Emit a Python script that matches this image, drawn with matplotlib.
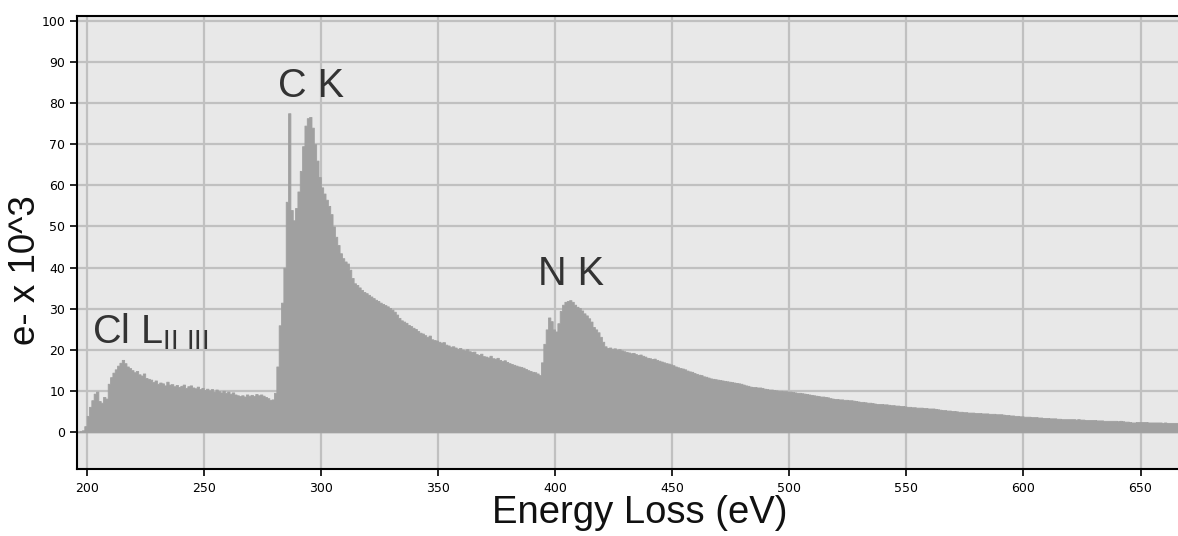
"""
EELS spectrum: C K, N K and Cl L edges.
"""

import numpy as np
import matplotlib
matplotlib.use("Agg")
import matplotlib.pyplot as plt

plt.rcParams["font.family"] = ["Liberation Sans", "DejaVu Sans"]
plt.rcParams["mathtext.default"] = "regular"

# spectrum, 1 eV channels starting at 196 eV (counts in units of 10^3 e-)
e_start = 196
counts = [
    0.2, 0.3, 0.5, 1.5, 4.0, 6.2, 7.8, 9.4, 9.9, 7.6,
    7.2, 8.6, 8.2, 11.8, 13.4, 14.5, 15.3, 16.2, 16.9, 17.6,
    16.8, 16.0, 15.6, 15.1, 14.6, 14.9, 14.1, 13.8, 14.3, 13.2,
    13.0, 12.8, 12.2, 12.6, 11.8, 12.1, 11.9, 11.4, 12.3, 11.6,
    11.7, 11.2, 11.5, 11.0, 11.3, 11.6, 10.8, 11.2, 11.4, 10.9,
    10.7, 11.1, 10.5, 10.8, 10.3, 10.6, 10.2, 10.5, 9.9, 10.4,
    10.0, 9.7, 10.1, 9.6, 9.9, 9.4, 9.7, 9.2, 9.0, 8.8,
    9.0, 8.7, 9.2, 8.9, 9.1, 8.8, 9.3, 9.0, 9.2, 8.9,
    8.6, 8.3, 7.9, 8.0, 9.6, 16.0, 26.0, 31.5, 40.0, 56.0,
    77.5, 54.0, 51.5, 54.5, 58.5, 63.5, 69.5, 74.5, 76.3, 76.6,
    74.0, 70.0, 66.0, 62.0, 59.5, 58.0, 56.5, 55.0, 53.0, 50.0,
    47.5, 45.5, 43.5, 42.3, 41.5, 41.0, 39.5, 37.5, 36.2, 35.8,
    35.2, 34.6, 34.1, 33.8, 33.4, 33.0, 32.6, 32.2, 31.9, 31.5,
    31.2, 30.9, 30.6, 30.2, 29.8, 29.3, 28.6, 27.8, 27.2, 26.9,
    26.6, 26.1, 25.8, 25.4, 25.1, 24.6, 24.2, 24.0, 23.6, 23.2,
    23.5, 22.6, 22.4, 22.3, 22.0, 21.8, 21.9, 21.3, 21.1, 20.8,
    20.9, 20.6, 20.3, 20.5, 20.1, 19.9, 20.2, 19.7, 19.5, 19.6,
    19.0, 18.8, 19.1, 18.5, 18.4, 18.2, 18.6, 18.0, 17.9, 18.1,
    17.6, 17.3, 17.5, 17.1, 16.8, 16.6, 16.4, 16.2, 16.0, 15.9,
    15.7, 15.4, 15.1, 14.9, 14.7, 14.6, 14.3, 13.9, 17.0, 21.5,
    25.0, 27.9, 27.0, 25.0, 24.5, 26.5, 29.5, 31.0, 31.7, 31.9,
    32.1, 31.7, 31.0, 30.5, 30.2, 29.6, 28.9, 28.4, 27.7, 26.9,
    25.6, 25.0, 24.3, 23.2, 22.0, 20.9, 20.5, 20.6, 20.3, 20.4,
    20.1, 20.2, 19.9, 19.7, 19.5, 19.4, 19.2, 19.3, 19.0, 18.8,
    18.9, 18.6, 18.4, 18.1, 18.0, 17.8, 17.9, 17.6, 17.4, 17.2,
    17.0, 16.8, 16.7, 16.5, 16.3, 16.0, 15.8, 15.6, 15.5, 15.3,
    15.0, 14.8, 14.7, 14.4, 14.2, 14.0, 13.9, 13.6, 13.5, 13.3,
    13.1, 13.0, 12.9, 12.8, 12.7, 12.6, 12.5, 12.4, 12.3, 12.2,
    12.1, 12.0, 11.9, 11.8, 11.6, 11.4, 11.3, 11.1, 11.0, 11.0,
    10.9, 10.9, 10.8, 10.6, 10.5, 10.4, 10.4, 10.3, 10.2, 10.1,
    10.1, 10.0, 10.0, 9.9, 9.9, 9.8, 9.7, 9.6, 9.6, 9.5,
    9.4, 9.3, 9.2, 9.1, 9.0, 8.9, 8.8, 8.7, 8.7, 8.6,
    8.5, 8.3, 8.2, 8.1, 8.1, 8.0, 8.0, 7.9, 7.9, 7.8,
    7.8, 7.7, 7.6, 7.5, 7.4, 7.4, 7.3, 7.2, 7.2, 7.1,
    7.0, 6.9, 6.9, 6.9, 6.8, 6.8, 6.7, 6.6, 6.6, 6.5,
    6.5, 6.4, 6.4, 6.3, 6.2, 6.2, 6.1, 6.1, 6.0, 6.0,
    6.0, 5.9, 5.9, 5.8, 5.8, 5.8, 5.7, 5.6, 5.5, 5.4,
    5.4, 5.3, 5.3, 5.2, 5.2, 5.1, 5.0, 5.0, 4.9, 4.9,
    4.8, 4.8, 4.8, 4.7, 4.7, 4.7, 4.6, 4.6, 4.6, 4.5,
    4.5, 4.5, 4.4, 4.4, 4.4, 4.3, 4.2, 4.2, 4.1, 4.1,
    4.0, 4.0, 3.9, 3.9, 3.8, 3.8, 3.8, 3.7, 3.7, 3.7,
    3.6, 3.6, 3.5, 3.5, 3.5, 3.4, 3.4, 3.4, 3.3, 3.3,
    3.2, 3.2, 3.2, 3.2, 3.2, 3.2, 3.1, 3.2, 3.1, 3.1,
    3.0, 3.0, 3.0, 3.0, 3.0, 2.9, 2.9, 2.9, 2.8, 2.8,
    2.8, 2.8, 2.8, 2.8, 2.7, 2.8, 2.7, 2.6, 2.6, 2.5,
    2.4, 2.4, 2.5, 2.5, 2.5, 2.5, 2.5, 2.4, 2.4, 2.4,
    2.4, 2.4, 2.4, 2.3, 2.4, 2.3, 2.3, 2.3, 2.3, 2.3,
]
energy = e_start + np.arange(len(counts))

edge_labels = ["C K", "N K"]
edge_pos = [(296, 81.5), (407, 35.8)]

x_ticks = [200, 250, 300, 350, 400, 450, 500, 550, 600, 650]
y_ticks = [0, 10, 20, 30, 40, 50, 60, 70, 80, 90, 100]

# ---------------------------------------------------------------------------
fig = plt.figure(figsize=(11.78, 5.36), dpi=100)
ax = fig.add_axes([0.0654, 0.125, 0.9346, 0.845])
ax.set_facecolor("#e8e8e8")

x_edges = np.append(energy, energy[-1] + 1)
y_step = np.append(counts, counts[-1])
ax.fill_between(x_edges, 0, y_step, step="post", facecolor="#a0a0a0",
                edgecolor="#a0a0a0", lw=0.6, zorder=2)

ax.set_xlim(195.9, 666.0)
ax.set_ylim(-8.9, 101.1)
ax.set_xticks(x_ticks)
ax.set_yticks(y_ticks)
ax.grid(True, color="#c0c0c0", lw=1.6, zorder=1)
ax.set_axisbelow(True)

for side in ("left", "top", "bottom"):
    ax.spines[side].set_linewidth(1.5)
    ax.spines[side].set_color("black")
ax.spines["right"].set_visible(False)
ax.tick_params(axis="both", direction="out", length=5, width=1.2,
               labelsize=9, colors="black")
for lbl in ax.get_xticklabels() + ax.get_yticklabels():
    lbl.set_family("DejaVu Sans")
ax.tick_params(axis="x", pad=4)

ax.set_xlabel("Energy Loss (eV)", fontsize=27.5, color="#111")
ax.xaxis.set_label_coords(0.511, -0.058)
ax.set_ylabel("e- x 10^3", fontsize=26.5, color="#111")
ax.yaxis.set_label_coords(-0.031, 0.44)

for lab, (xx, yy) in zip(edge_labels, edge_pos):
    ax.text(xx, yy, lab, ha="center", va="baseline", fontsize=28.5, color="#333")
ax.text(202.3, 21.7, r"Cl L$_{II\ III}$", ha="left", va="baseline",
        fontsize=28.5, color="#333")

fig.savefig("out.png", dpi=100, facecolor="white")
